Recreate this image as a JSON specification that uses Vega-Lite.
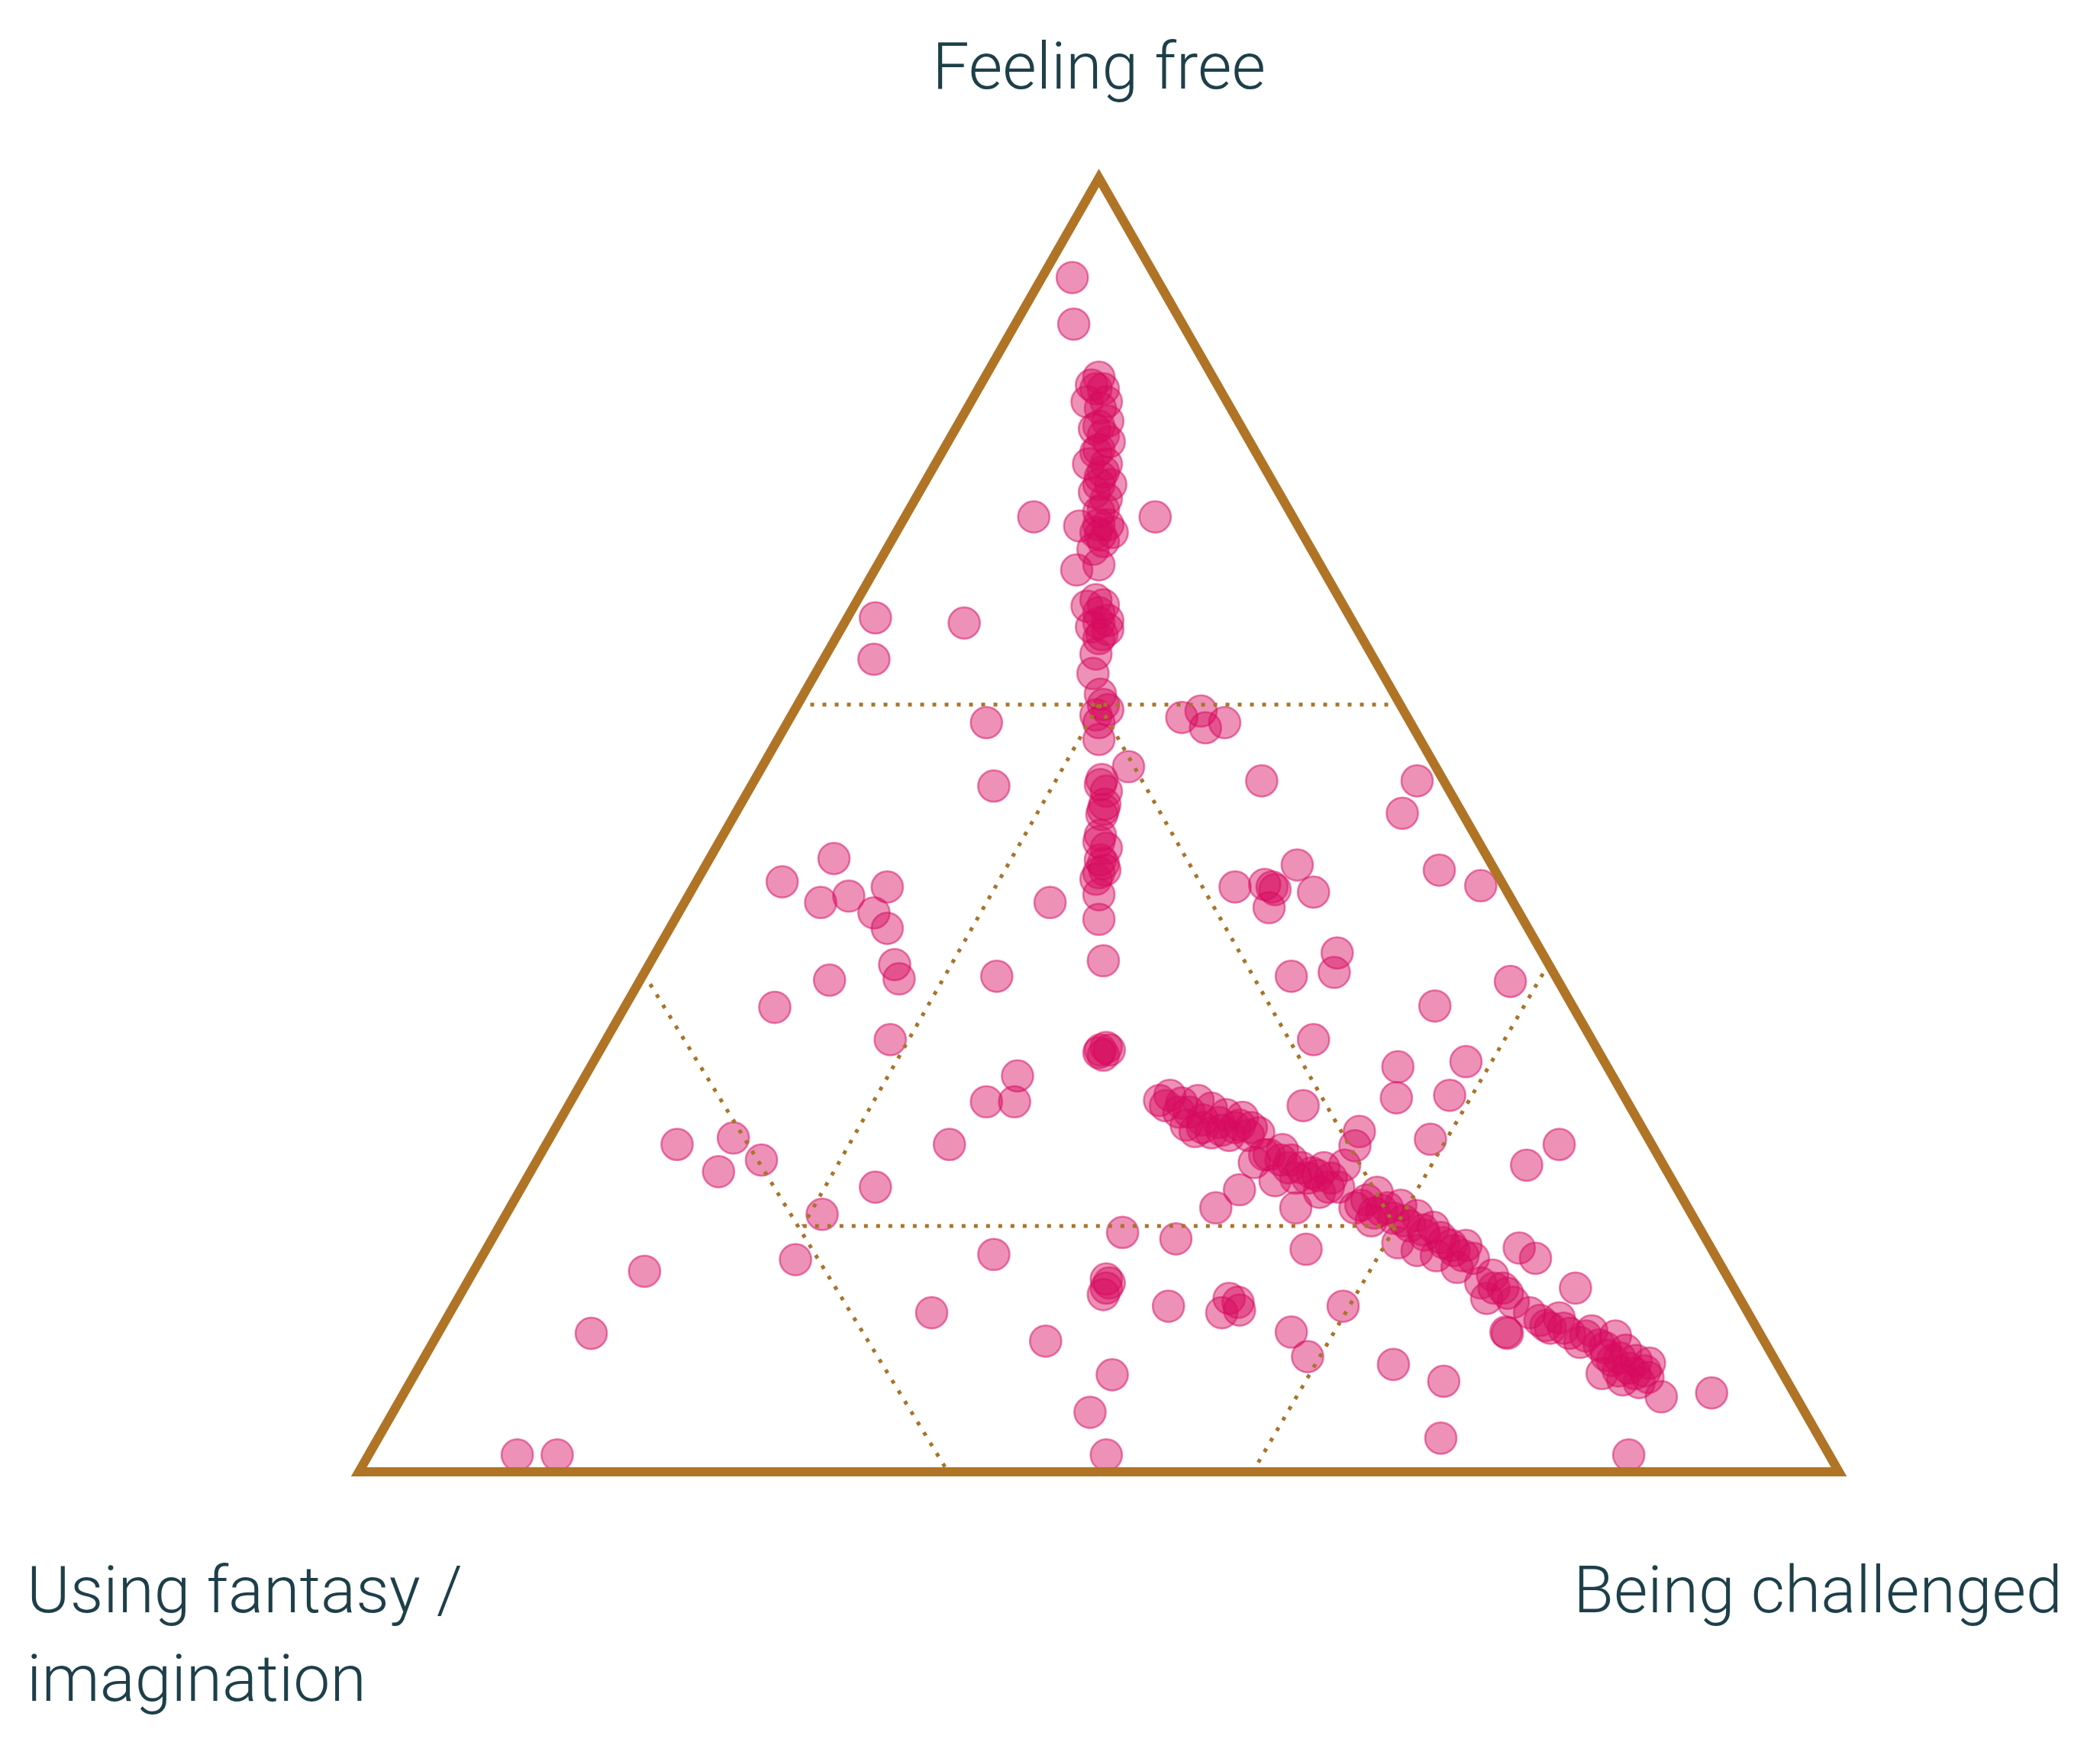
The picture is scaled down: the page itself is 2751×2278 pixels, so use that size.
{
  "$schema": "https://vega.github.io/schema/vega-lite/v6.json",
  "width": 2751,
  "height": 2278,
  "autosize": {"type": "fit", "contains": "padding"},
  "padding": 0,
  "background": "white",
  "config": {"view": {"stroke": null}},
  "datasets": {
    "responses": [
      {"x":0.482,"y":0.923},{"x":0.483,"y":0.887},
      {"x":0.500,"y":0.846},{"x":0.495,"y":0.840},{"x":0.503,"y":0.837},{"x":0.492,"y":0.827},{"x":0.501,"y":0.822},{"x":0.506,"y":0.812},{"x":0.497,"y":0.806},{"x":0.507,"y":0.796},{"x":0.500,"y":0.790},{"x":0.493,"y":0.779},{"x":0.505,"y":0.779},{"x":0.501,"y":0.769},{"x":0.508,"y":0.763},{"x":0.497,"y":0.757},{"x":0.505,"y":0.752},{"x":0.500,"y":0.742},{"x":0.487,"y":0.731},{"x":0.498,"y":0.726},{"x":0.509,"y":0.726},{"x":0.503,"y":0.719},{"x":0.496,"y":0.713},{"x":0.485,"y":0.697},{"x":0.500,"y":0.701},{"x":0.492,"y":0.669},{"x":0.500,"y":0.664},{"x":0.506,"y":0.658},{"x":0.495,"y":0.653},{"x":0.506,"y":0.651},{"x":0.500,"y":0.644},{"x":0.498,"y":0.632},{"x":0.496,"y":0.617},{"x":0.501,"y":0.601},{"x":0.506,"y":0.589},{"x":0.498,"y":0.585},{"x":0.500,"y":0.566},{"x":0.520,"y":0.545},
      {"x":0.498,"y":0.837},{"x":0.505,"y":0.827},{"x":0.500,"y":0.808},{"x":0.503,"y":0.801},{"x":0.498,"y":0.788},{"x":0.503,"y":0.773},{"x":0.500,"y":0.763},{"x":0.503,"y":0.744},{"x":0.500,"y":0.732},{"x":0.506,"y":0.732},{"x":0.501,"y":0.724},{"x":0.498,"y":0.674},{"x":0.503,"y":0.670},{"x":0.500,"y":0.656},{"x":0.502,"y":0.647},{"x":0.503,"y":0.593},{"x":0.500,"y":0.579},
      {"x":0.456,"y":0.738},{"x":0.538,"y":0.738},
      {"x":0.349,"y":0.660},{"x":0.409,"y":0.656},{"x":0.348,"y":0.628},
      {"x":0.424,"y":0.579},{"x":0.556,"y":0.583},{"x":0.569,"y":0.588},{"x":0.572,"y":0.575},{"x":0.585,"y":0.579},{"x":0.429,"y":0.530},{"x":0.610,"y":0.534},
      {"x":0.502,"y":0.535},{"x":0.505,"y":0.526},{"x":0.504,"y":0.516},{"x":0.502,"y":0.508},{"x":0.500,"y":0.487},{"x":0.505,"y":0.482},{"x":0.501,"y":0.473},{"x":0.504,"y":0.465},{"x":0.498,"y":0.458},{"x":0.500,"y":0.446},{"x":0.500,"y":0.427},{"x":0.503,"y":0.395},
      {"x":0.501,"y":0.531},{"x":0.503,"y":0.512},{"x":0.501,"y":0.492},{"x":0.503,"y":0.470},{"x":0.500,"y":0.463},
      {"x":0.321,"y":0.474},{"x":0.286,"y":0.456},{"x":0.312,"y":0.440},{"x":0.331,"y":0.445},{"x":0.357,"y":0.452},{"x":0.348,"y":0.432},{"x":0.357,"y":0.420},{"x":0.362,"y":0.392},{"x":0.365,"y":0.381},{"x":0.318,"y":0.380},{"x":0.281,"y":0.359},{"x":0.359,"y":0.334},{"x":0.467,"y":0.440},{"x":0.431,"y":0.383},
      {"x":0.592,"y":0.452},{"x":0.612,"y":0.454},{"x":0.619,"y":0.450},{"x":0.617,"y":0.452},{"x":0.615,"y":0.436},{"x":0.634,"y":0.469},{"x":0.645,"y":0.448},{"x":0.661,"y":0.401},{"x":0.659,"y":0.386},{"x":0.630,"y":0.383},{"x":0.645,"y":0.334},{"x":0.715,"y":0.534},{"x":0.705,"y":0.509},{"x":0.730,"y":0.465},{"x":0.758,"y":0.453},{"x":0.778,"y":0.379},{"x":0.727,"y":0.360},
      {"x":0.500,"y":0.324},{"x":0.507,"y":0.326},{"x":0.503,"y":0.322},{"x":0.505,"y":0.328},{"x":0.501,"y":0.326},
      {"x":0.445,"y":0.306},{"x":0.424,"y":0.286},{"x":0.443,"y":0.286},{"x":0.399,"y":0.253},{"x":0.349,"y":0.220},{"x":0.215,"y":0.253},{"x":0.253,"y":0.258},{"x":0.243,"y":0.232},{"x":0.272,"y":0.241},{"x":0.313,"y":0.199},{"x":0.295,"y":0.164},{"x":0.193,"y":0.155},{"x":0.157,"y":0.107},{"x":0.107,"y":0.013},{"x":0.134,"y":0.013},
      {"x":0.541,"y":0.287},{"x":0.548,"y":0.291},{"x":0.556,"y":0.285},{"x":0.561,"y":0.278},{"x":0.567,"y":0.287},{"x":0.570,"y":0.272},{"x":0.576,"y":0.281},{"x":0.581,"y":0.270},{"x":0.586,"y":0.276},{"x":0.592,"y":0.266},{"x":0.597,"y":0.274},{"x":0.603,"y":0.266},{"x":0.608,"y":0.262},{"x":0.565,"y":0.263},{"x":0.576,"y":0.262},{"x":0.588,"y":0.260},
      {"x":0.545,"y":0.283},{"x":0.554,"y":0.278},{"x":0.559,"y":0.268},{"x":0.570,"y":0.266},{"x":0.583,"y":0.264},{"x":0.595,"y":0.268},{"x":0.601,"y":0.260},
      {"x":0.605,"y":0.239},{"x":0.615,"y":0.245},{"x":0.624,"y":0.249},{"x":0.630,"y":0.241},{"x":0.637,"y":0.235},{"x":0.644,"y":0.231},{"x":0.652,"y":0.235},{"x":0.657,"y":0.227},{"x":0.662,"y":0.220},{"x":0.633,"y":0.227},{"x":0.619,"y":0.225},{"x":0.595,"y":0.218},{"x":0.579,"y":0.204},{"x":0.633,"y":0.204},{"x":0.673,"y":0.252},{"x":0.666,"y":0.237},{"x":0.649,"y":0.216},
      {"x":0.612,"y":0.245},{"x":0.623,"y":0.241},{"x":0.628,"y":0.235},{"x":0.641,"y":0.227},{"x":0.648,"y":0.229},{"x":0.655,"y":0.220},
      {"x":0.673,"y":0.204},{"x":0.681,"y":0.210},{"x":0.688,"y":0.216},{"x":0.691,"y":0.202},{"x":0.699,"y":0.196},{"x":0.704,"y":0.206},{"x":0.710,"y":0.190},{"x":0.715,"y":0.198},{"x":0.720,"y":0.183},{"x":0.726,"y":0.189},{"x":0.733,"y":0.177},{"x":0.740,"y":0.171},{"x":0.748,"y":0.175},{"x":0.753,"y":0.165},{"x":0.702,"y":0.177},{"x":0.715,"y":0.171},{"x":0.728,"y":0.167},{"x":0.742,"y":0.158},{"x":0.684,"y":0.194},
      {"x":0.677,"y":0.206},{"x":0.686,"y":0.200},{"x":0.695,"y":0.204},{"x":0.706,"y":0.194},{"x":0.719,"y":0.187},{"x":0.731,"y":0.181},{"x":0.738,"y":0.175},{"x":0.746,"y":0.167},
      {"x":0.758,"y":0.146},{"x":0.766,"y":0.152},{"x":0.773,"y":0.142},{"x":0.780,"y":0.131},{"x":0.784,"y":0.173},{"x":0.795,"y":0.165},{"x":0.791,"y":0.123},{"x":0.798,"y":0.117},{"x":0.805,"y":0.111},{"x":0.811,"y":0.119},{"x":0.818,"y":0.107},{"x":0.822,"y":0.142},{"x":0.825,"y":0.100},{"x":0.833,"y":0.109},{"x":0.838,"y":0.098},{"x":0.843,"y":0.090},{"x":0.849,"y":0.105},{"x":0.852,"y":0.088},{"x":0.858,"y":0.080},{"x":0.863,"y":0.086},{"x":0.869,"y":0.078},{"x":0.872,"y":0.084},{"x":0.840,"y":0.076},{"x":0.854,"y":0.071},{"x":0.865,"y":0.069},{"x":0.776,"y":0.107},{"x":0.775,"y":0.108},{"x":0.762,"y":0.134},{"x":0.880,"y":0.058},{"x":0.914,"y":0.061},
      {"x":0.767,"y":0.142},{"x":0.776,"y":0.138},{"x":0.802,"y":0.113},{"x":0.814,"y":0.111},{"x":0.829,"y":0.105},{"x":0.842,"y":0.096},{"x":0.847,"y":0.086},{"x":0.856,"y":0.094},{"x":0.862,"y":0.076},{"x":0.871,"y":0.073},{"x":0.851,"y":0.078},
      {"x":0.702,"y":0.313},{"x":0.701,"y":0.289},{"x":0.748,"y":0.317},{"x":0.737,"y":0.291},{"x":0.724,"y":0.257},{"x":0.676,"y":0.263},{"x":0.789,"y":0.237},{"x":0.811,"y":0.253},{"x":0.638,"y":0.283},
      {"x":0.516,"y":0.185},{"x":0.552,"y":0.180},{"x":0.640,"y":0.172},{"x":0.429,"y":0.168},{"x":0.505,"y":0.149},{"x":0.503,"y":0.137},{"x":0.507,"y":0.146},{"x":0.505,"y":0.142},{"x":0.547,"y":0.128},{"x":0.588,"y":0.134},{"x":0.595,"y":0.125},{"x":0.594,"y":0.131},{"x":0.583,"y":0.123},{"x":0.387,"y":0.123},{"x":0.464,"y":0.101},{"x":0.630,"y":0.108},{"x":0.641,"y":0.089},{"x":0.665,"y":0.128},{"x":0.699,"y":0.083},{"x":0.733,"y":0.070},{"x":0.731,"y":0.026},{"x":0.509,"y":0.075},{"x":0.494,"y":0.046},{"x":0.505,"y":0.013},{"x":0.858,"y":0.013}
    ],
    "frame": [
      {"order":0,"x":0.5,"y":0},{"order":1,"x":1,"y":0},{"order":2,"x":0.5,"y":1},{"order":3,"x":0,"y":0},{"order":4,"x":0.5,"y":0}
    ],
    "grid": [
      {"x":0.305,"y":0.593,"x2":0.7,"y2":0.593},
      {"x":0.3,"y":0.19,"x2":0.7,"y2":0.19},
      {"x":0.1925,"y":0.385,"x2":0.398,"y2":0},
      {"x":0.8,"y":0.385,"x2":0.604,"y2":0},
      {"x":0.5,"y":0.593,"x2":0.3,"y2":0.19},
      {"x":0.5,"y":0.593,"x2":0.7,"y2":0.19}
    ],
    "labels": [
      {"vertex":"top","label":"Feeling free","x":0.5,"y":1.069},
      {"vertex":"left","label":"Using fantasy /","x":-0.2244,"y":-0.1087},
      {"vertex":"left","label":"imagination","x":-0.2244,"y":-0.177},
      {"vertex":"right","label":"Being challenged","x":1.151,"y":-0.1087}
    ]
  },
  "layer": [
    {
      "data": {"name": "responses"},
      "mark": {"type": "point", "filled": true, "shape": "circle", "size": 1700, "opacity": 1, "fill": "#d80a5f", "fillOpacity": 0.45, "stroke": "#d80a5f", "strokeOpacity": 0.5, "strokeWidth": 2.5},
      "encoding": {
        "x": {"field": "x", "type": "quantitative", "scale": {"domain": [-0.2425, 1.1764], "nice": false, "zero": false}, "axis": null},
        "y": {"field": "y", "type": "quantitative", "scale": {"domain": [-0.2065, 1.1375], "nice": false, "zero": false}, "axis": null}
      }
    },
    {
      "data": {"name": "grid"},
      "mark": {"type": "rule", "color": "#a8742a", "strokeWidth": 5, "strokeDash": [5, 11]},
      "encoding": {
        "x": {"field": "x", "type": "quantitative", "scale": {"domain": [-0.2425, 1.1764], "nice": false, "zero": false}, "axis": null},
        "y": {"field": "y", "type": "quantitative", "scale": {"domain": [-0.2065, 1.1375], "nice": false, "zero": false}, "axis": null},
        "x2": {"field": "x2"},
        "y2": {"field": "y2"}
      }
    },
    {
      "data": {"name": "frame"},
      "mark": {"type": "line", "color": "#b07426", "strokeWidth": 12, "strokeJoin": "miter"},
      "encoding": {
        "x": {"field": "x", "type": "quantitative", "scale": {"domain": [-0.2425, 1.1764], "nice": false, "zero": false}, "axis": null},
        "y": {"field": "y", "type": "quantitative", "scale": {"domain": [-0.2065, 1.1375], "nice": false, "zero": false}, "axis": null},
        "order": {"field": "order", "type": "quantitative"}
      }
    },
    {
      "data": {"name": "labels"},
      "transform": [{"filter": "datum.vertex == 'top'"}],
      "mark": {"type": "text", "align": "center", "baseline": "alphabetic", "font": "Roboto", "fontWeight": 300, "fontSize": 86, "color": "#1d3f49"},
      "encoding": {
        "x": {"field": "x", "type": "quantitative", "scale": {"domain": [-0.2425, 1.1764], "nice": false, "zero": false}, "axis": null},
        "y": {"field": "y", "type": "quantitative", "scale": {"domain": [-0.2065, 1.1375], "nice": false, "zero": false}, "axis": null},
        "text": {"field": "label"}
      }
    },
    {
      "data": {"name": "labels"},
      "transform": [{"filter": "datum.vertex == 'left'"}],
      "mark": {"type": "text", "align": "left", "baseline": "alphabetic", "font": "Roboto", "fontWeight": 300, "fontSize": 86, "color": "#1d3f49"},
      "encoding": {
        "x": {"field": "x", "type": "quantitative", "scale": {"domain": [-0.2425, 1.1764], "nice": false, "zero": false}, "axis": null},
        "y": {"field": "y", "type": "quantitative", "scale": {"domain": [-0.2065, 1.1375], "nice": false, "zero": false}, "axis": null},
        "text": {"field": "label"}
      }
    },
    {
      "data": {"name": "labels"},
      "transform": [{"filter": "datum.vertex == 'right'"}],
      "mark": {"type": "text", "align": "right", "baseline": "alphabetic", "font": "Roboto", "fontWeight": 300, "fontSize": 86, "color": "#1d3f49"},
      "encoding": {
        "x": {"field": "x", "type": "quantitative", "scale": {"domain": [-0.2425, 1.1764], "nice": false, "zero": false}, "axis": null},
        "y": {"field": "y", "type": "quantitative", "scale": {"domain": [-0.2065, 1.1375], "nice": false, "zero": false}, "axis": null},
        "text": {"field": "label"}
      }
    }
  ]
}
